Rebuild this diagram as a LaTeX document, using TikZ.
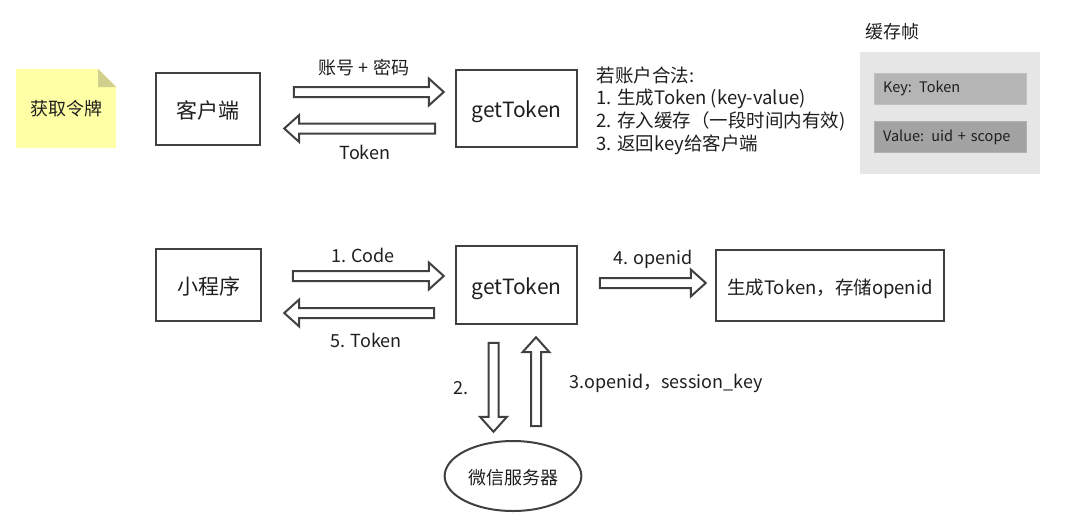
\documentclass[tikz,border=0pt]{standalone}
\usepackage{fontspec}
\setmainfont{Noto Sans CJK SC}
\usetikzlibrary{shapes.arrows,shapes.geometric}

\definecolor{linegray}{RGB}{64,64,64}
\definecolor{txtgray}{RGB}{30,30,30}
\definecolor{notefill}{RGB}{255,255,165}
\definecolor{notefold}{RGB}{208,208,140}
\definecolor{framefill}{RGB}{230,230,230}
\definecolor{keyfill}{RGB}{181,181,181}
\definecolor{valfill}{RGB}{163,163,163}

\tikzset{
    box/.style={draw=linegray,line width=2.5pt,fill=white,text=txtgray,text height=20pt,text depth=2pt,
        font=\fontsize{21}{24}\selectfont},
    fat/.style={single arrow,draw=linegray,line width=2pt,fill=white,inner sep=4pt,
        single arrow head extend=8.5pt,single arrow tip angle=84,minimum height=#1},
    lbl/.style={text=txtgray,font=\fontsize{18}{21}\selectfont},
    cell/.style={minimum width=152pt,minimum height=31pt,text width=134pt,align=left,
        text=txtgray,font=\fontsize{14.5}{17}\selectfont}
}

\begin{document}
\begin{tikzpicture}[x=1pt,y=-1pt]
    \useasboundingbox (0,0) rectangle (1067,527);

    % top row
    \fill[notefill](16,69)--(98,69)--(116,87)--(116,148)--(16,148)--cycle;
    \fill[notefold](98,69)--(98,87)--(116,87)--cycle;
    \node[lbl](note)at(66,109){获取令牌};

    \node[box,minimum width=104pt,minimum height=72pt](client)at(208,109){客户端};
    \node[box,minimum width=121pt,minimum height=77pt](gt1)at(516.5,108.5){getToken};

    \node[fat=150pt](a1)at(366,92){};
    \node[fat=151pt,shape border rotate=180](a2)at(362.5,128.5){};
    \node[lbl](a1t)at(364,68){账号 + 密码};
    \node[lbl](a2t)at(365,152){Token};

    \node[lbl,anchor=north west,align=left,font=\fontsize{18.5}{22.7}\selectfont](rule)at(593,63)
        {若账户合法:\\1. 生成Token (key-value)\\2. 存入缓存（一段时间内有效)\\3. 返回key给客户端};

    % cache frame
    \node[lbl,anchor=west](cachet)at(862,32){缓存帧};
    \fill[framefill](860,52)rectangle(1040,174);
    \node[cell,fill=keyfill,draw=keyfill!85!white](key)at(950,88.5){Key: Token};
    \node[cell,fill=valfill,draw=valfill!85!white](val)at(950,137){Value: uid + scope};

    % bottom row
    \node[box,minimum width=105pt,minimum height=72pt](mini)at(208.5,285){小程序};
    \node[box,minimum width=121pt,minimum height=78pt](gt2)at(516.5,285){getToken};
    \node[box,minimum width=228pt,minimum height=71pt,font=\fontsize{18.5}{22}\selectfont](store)at(830,285.5)
        {生成Token，存储openid};

    \node[fat=151pt](b1)at(365.5,276){};
    \node[fat=150pt,shape border rotate=180](b2)at(362,313){};
    \node[lbl](b1t)at(363,255){1. Code};
    \node[lbl](b2t)at(366,340){5. Token};

    \node[fat=106pt](b4)at(650,283){};
    \node[lbl](b4t)at(653,259){4. openid};

    \node[fat=89pt,shape border rotate=270](b3)at(493.5,384.5){};
    \node[fat=89pt,shape border rotate=90](b5)at(536,384.5){};
    \node[lbl](b3t)at(461,388){2.};
    \node[lbl,anchor=west](b5t)at(566,383){3.openid，session\_key};

    \node[draw=linegray,line width=2pt,ellipse,minimum width=136pt,minimum height=70pt,
        lbl,text height=18pt,text depth=2pt](wx)at(513,476){微信服务器};
\end{tikzpicture}
\end{document}
